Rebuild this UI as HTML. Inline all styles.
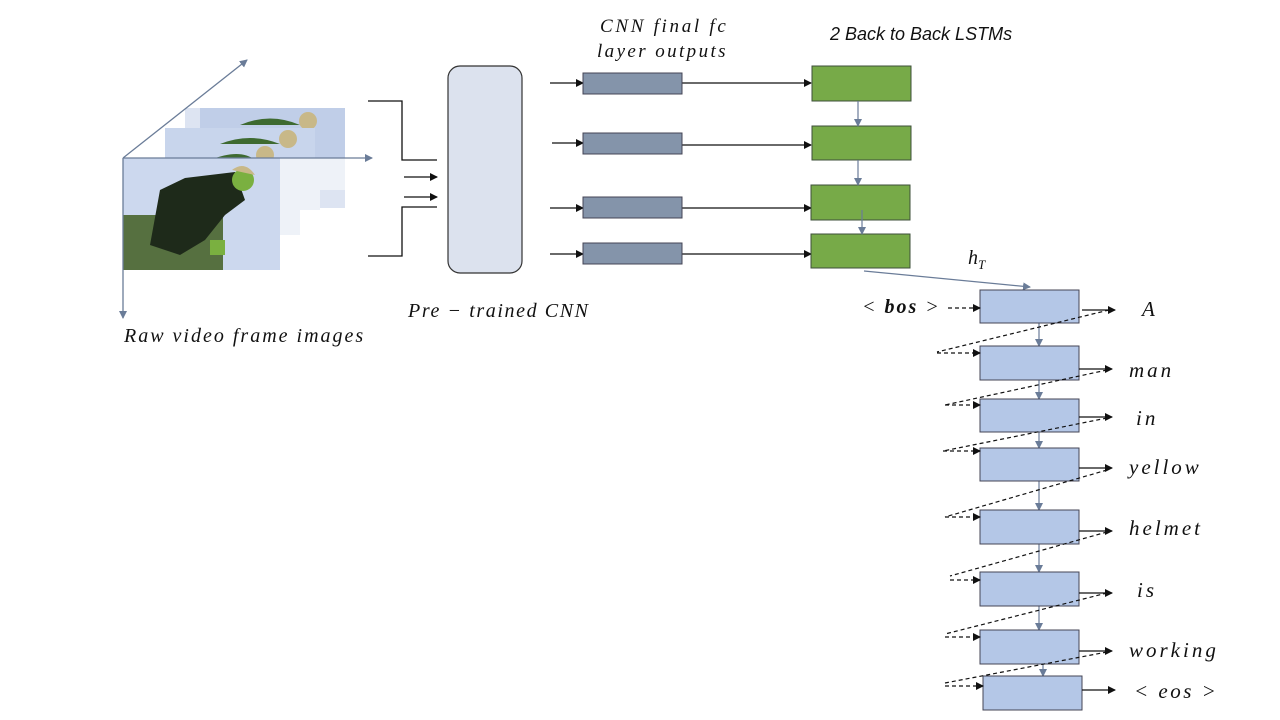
<!DOCTYPE html>
<html><head><meta charset="utf-8"><style>
html,body{margin:0;padding:0;background:#fff;width:1280px;height:720px;overflow:hidden}
svg text{font-family:"Liberation Serif",serif;font-style:italic;fill:#111}
</style></head><body>
<svg width="1280" height="720" viewBox="0 0 1280 720" xmlns="http://www.w3.org/2000/svg">
<defs>
<marker id="ab" markerWidth="8" markerHeight="8" refX="7" refY="4" orient="auto" markerUnits="userSpaceOnUse"><path d="M0,0 L8,4 L0,8z" fill="#111"/></marker>
<marker id="ag" markerWidth="8" markerHeight="8" refX="7" refY="4" orient="auto" markerUnits="userSpaceOnUse"><path d="M0,0 L8,4 L0,8z" fill="#6a7c98"/></marker>
</defs>
<!-- frames -->
<rect x="185" y="108" width="160" height="100" fill="#dde4f2"/>
<rect x="200" y="108" width="145" height="50" fill="#c0cee8"/>
<path d="M240,125 Q270,112 300,125 Z" fill="#3e6a30"/><circle cx="308" cy="121" r="9" fill="#c8b888"/>
<rect x="165" y="128" width="150" height="40" fill="#c8d5ec"/>
<path d="M220,144 Q250,132 280,144 Z" fill="#3e6a30"/><circle cx="288" cy="139" r="9" fill="#c8b888"/>
<path d="M210,160 Q240,148 255,160 Z" fill="#3e6a30"/><circle cx="265" cy="155" r="9" fill="#c8b888"/>
<rect x="123" y="158" width="157" height="112" fill="#ccd8ee"/>
<path d="M280,158 L345,158 L345,190 L320,190 L320,210 L300,210 L300,235 L280,235 Z" fill="#eef2f8"/>
<rect x="123" y="215" width="100" height="55" fill="#567040"/>
<path d="M150,245 L160,190 L185,178 L235,172 L245,200 L225,215 L205,240 L180,255 Z" fill="#1e2a1a"/>
<circle cx="243" cy="180" r="11" fill="#7ab040"/>
<path d="M232,170 Q245,160 255,175 Z" fill="#c8b888"/>
<rect x="210" y="240" width="15" height="15" fill="#7ab040"/>
<!-- axes -->
<g stroke="#6a7c98" stroke-width="1.3" fill="none">
<line x1="123" y1="158" x2="247" y2="60" marker-end="url(#ag)"/>
<line x1="123" y1="158" x2="372" y2="158" marker-end="url(#ag)"/>
<line x1="123" y1="158" x2="123" y2="318" marker-end="url(#ag)"/>
</g>
<!-- bracket -->
<g stroke="#111" stroke-width="1.3" fill="none">
<polyline points="368,101 402,101 402,160 437,160"/>
<polyline points="368,256 402,256 402,207 437,207"/>
<line x1="404" y1="177" x2="437" y2="177" marker-end="url(#ab)"/>
<line x1="404" y1="197" x2="437" y2="197" marker-end="url(#ab)"/>
</g>
<rect x="448" y="66" width="74" height="207" rx="12" fill="#dce2ee" stroke="#333" stroke-width="1.2"/>
<!-- fc boxes -->
<g stroke="#111" stroke-width="1.3">
<line x1="550" y1="83" x2="583" y2="83" marker-end="url(#ab)"/>
<line x1="552" y1="143" x2="583" y2="143" marker-end="url(#ab)"/>
<line x1="550" y1="208" x2="583" y2="208" marker-end="url(#ab)"/>
<line x1="550" y1="254" x2="583" y2="254" marker-end="url(#ab)"/>
<line x1="682" y1="83" x2="811" y2="83" marker-end="url(#ab)"/>
<line x1="682" y1="145" x2="811" y2="145" marker-end="url(#ab)"/>
<line x1="682" y1="208" x2="811" y2="208" marker-end="url(#ab)"/>
<line x1="682" y1="254" x2="811" y2="254" marker-end="url(#ab)"/>
</g>
<g fill="#8494aa" stroke="#445" stroke-width="1">
<rect x="583" y="73" width="99" height="21"/>
<rect x="583" y="133" width="99" height="21"/>
<rect x="583" y="197" width="99" height="21"/>
<rect x="583" y="243" width="99" height="21"/>
</g>
<g fill="#77aa48" stroke="#3d4f3a" stroke-width="1">
<rect x="812" y="66" width="99" height="35"/>
<rect x="812" y="126" width="99" height="34"/>
<rect x="811" y="185" width="99" height="35"/>
<rect x="811" y="234" width="99" height="34"/>
</g>
<g stroke="#6a7c98" stroke-width="1.2">
<line x1="858" y1="101" x2="858" y2="126" marker-end="url(#ag)"/>
<line x1="858" y1="160" x2="858" y2="185" marker-end="url(#ag)"/>
<line x1="862" y1="210" x2="862" y2="234" marker-end="url(#ag)"/>
<line x1="864" y1="271" x2="1030" y2="287" marker-end="url(#ag)"/>
</g>
<!-- decoder -->
<g stroke="#6a7c98" stroke-width="1.2">
<line x1="1039" y1="323" x2="1039" y2="346" marker-end="url(#ag)"/>
<line x1="1039" y1="380" x2="1039" y2="399" marker-end="url(#ag)"/>
<line x1="1039" y1="432" x2="1039" y2="448" marker-end="url(#ag)"/>
<line x1="1039" y1="481" x2="1039" y2="510" marker-end="url(#ag)"/>
<line x1="1039" y1="544" x2="1039" y2="572" marker-end="url(#ag)"/>
<line x1="1039" y1="606" x2="1039" y2="630" marker-end="url(#ag)"/>
<line x1="1043" y1="653" x2="1043" y2="676" marker-end="url(#ag)"/>
</g>
<g fill="#b4c7e7" stroke="#445" stroke-width="1">
<rect x="980" y="290" width="99" height="33"/>
<rect x="980" y="346" width="99" height="34"/>
<rect x="980" y="399" width="99" height="33"/>
<rect x="980" y="448" width="99" height="33"/>
<rect x="980" y="510" width="99" height="34"/>
<rect x="980" y="572" width="99" height="34"/>
<rect x="980" y="630" width="99" height="34"/>
<rect x="983" y="676" width="99" height="34"/>
</g>
<g stroke="#111" stroke-width="1.3">
<line x1="1082" y1="310" x2="1115" y2="310" marker-end="url(#ab)"/>
<line x1="1079" y1="369" x2="1112" y2="369" marker-end="url(#ab)"/>
<line x1="1079" y1="417" x2="1112" y2="417" marker-end="url(#ab)"/>
<line x1="1079" y1="468" x2="1112" y2="468" marker-end="url(#ab)"/>
<line x1="1079" y1="531" x2="1112" y2="531" marker-end="url(#ab)"/>
<line x1="1079" y1="593" x2="1112" y2="593" marker-end="url(#ab)"/>
<line x1="1079" y1="651" x2="1112" y2="651" marker-end="url(#ab)"/>
<line x1="1082" y1="690" x2="1115" y2="690" marker-end="url(#ab)"/>
</g>
<g stroke="#111" stroke-width="1.2" stroke-dasharray="4,3" fill="none">
<line x1="948" y1="308" x2="980" y2="308" marker-end="url(#ab)"/>
<line x1="1109" y1="310" x2="937" y2="352"/>
<line x1="937" y1="353" x2="980" y2="353" marker-end="url(#ab)"/>
<line x1="1107" y1="370" x2="945" y2="405"/>
<line x1="945" y1="405" x2="980" y2="405" marker-end="url(#ab)"/>
<line x1="1107" y1="418" x2="943" y2="451"/>
<line x1="943" y1="451" x2="980" y2="451" marker-end="url(#ab)"/>
<line x1="1107" y1="470" x2="945" y2="517"/>
<line x1="945" y1="517" x2="980" y2="517" marker-end="url(#ab)"/>
<line x1="1107" y1="532" x2="950" y2="576"/>
<line x1="950" y1="580" x2="980" y2="580" marker-end="url(#ab)"/>
<line x1="1107" y1="593" x2="945" y2="634"/>
<line x1="945" y1="637" x2="980" y2="637" marker-end="url(#ab)"/>
<line x1="1107" y1="652" x2="945" y2="683"/>
<line x1="945" y1="686" x2="983" y2="686" marker-end="url(#ab)"/>
</g>
<!-- labels -->
<text x="124" y="342" font-size="20" letter-spacing="2">Raw video frame images</text>
<text x="408" y="317" font-size="20" letter-spacing="1.6">Pre − trained CNN</text>
<text x="600" y="32" font-size="19" letter-spacing="2.7">CNN final fc</text>
<text x="597" y="57" font-size="19" letter-spacing="2.4">layer outputs</text>
<text x="830" y="40" font-size="18" style="font-family:'Liberation Sans',sans-serif" fill="#111">2 Back to Back LSTMs</text>
<text x="968" y="264" font-size="20">h<tspan font-size="13" dy="5">T</tspan></text>
<text x="862" y="313" font-size="20" letter-spacing="2">&lt; <tspan font-weight="bold">bos</tspan> &gt;</text>
<text x="1142" y="316" font-size="21">A</text>
<text x="1129" y="377" font-size="21" letter-spacing="3">man</text>
<text x="1136" y="425" font-size="21" letter-spacing="3">in</text>
<text x="1129" y="474" font-size="21" letter-spacing="3">yellow</text>
<text x="1129" y="535" font-size="21" letter-spacing="3">helmet</text>
<text x="1137" y="597" font-size="21" letter-spacing="3">is</text>
<text x="1129" y="657" font-size="21" letter-spacing="3">working</text>
<text x="1134" y="698" font-size="21" letter-spacing="2.5">&lt; eos &gt;</text>
</svg>
</body></html>
